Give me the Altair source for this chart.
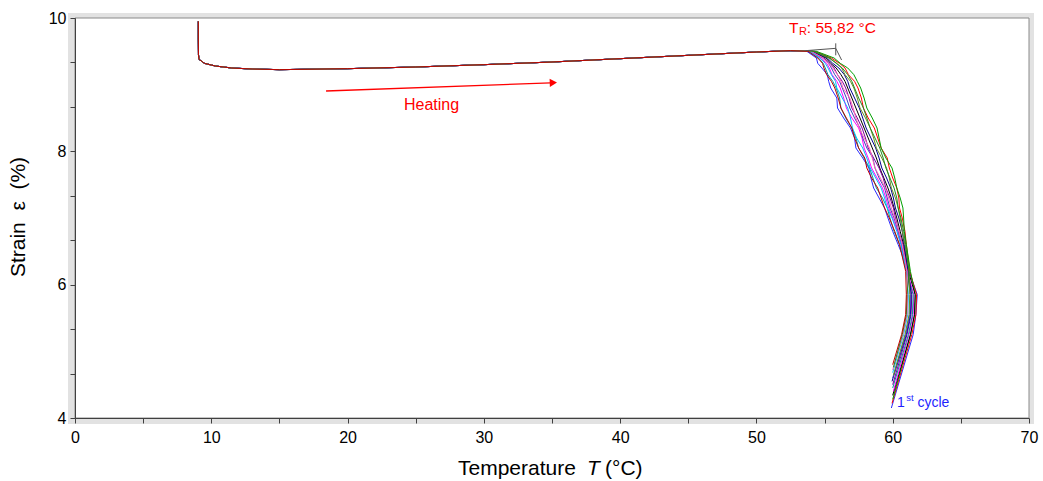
import altair as alt
import pandas as pd

FONT = "Liberation Sans"

# ---------------- data ----------------
# shared heating branch (all cycles overlap here)
heat_T = [9.05, 9.05, 9.06, 9.10, 9.50, 10.3, 11.5, 13.0, 15.0, 20.0, 25.0, 30.0, 35.0, 40.0, 45.0, 50.0, 52.5]
heat_eps = [9.95, 9.70, 9.45, 9.38, 9.32, 9.28, 9.25, 9.235, 9.225, 9.24, 9.265, 9.30, 9.34, 9.39, 9.44, 9.49, 9.51]

# strain levels of the recovery branch, temperature of each cycle at those levels
drop_eps = [9.50, 9.40, 9.32, 9.25, 9.15, 9.05, 8.95, 8.80, 8.65, 8.50, 8.35, 8.20, 8.05,
            7.90, 7.75, 7.60, 7.45, 7.30, 7.15, 7.00, 6.80, 6.60, 6.20, 5.85, 5.55, 5.25]

cycle_names = ["c01", "c02", "c03", "c04", "c05", "c06", "c07",
               "c08", "c09", "c10", "c11", "c12", "c13", "c14"]
cycle_colors = ["#2a2aff", "#ff0000", "#00a000", "#000000", "#ff00ff", "#009999", "#8000a0",
                "#000090", "#4040c0", "#6b8e23", "#00bfff", "#ff69b4", "#228b22", "#c00000"]

drop_T = [
    [53.7, 54.4, 54.5, 54.8, 55.2, 55.3, 55.45, 55.9, 55.95, 56.4, 56.9, 57.2, 57.3,
     57.8, 58.25, 58.4, 58.6, 59.0, 59.4, 59.65, 60.0, 60.4, 61.2, 61.8, 61.7, 61.5],
    [54.3, 55.5, 56.1, 56.5, 56.75, 57.2, 57.45, 57.7, 57.85, 58.2, 58.65, 58.9, 59.15,
     59.6, 59.75, 60.0, 60.3, 60.45, 60.5, 60.7, 60.9, 61.0, 61.25, 61.75, 61.7, 61.4],
    [54.4, 55.7, 56.15, 56.7, 57.15, 57.4, 57.65, 57.9, 58.1, 58.5, 58.85, 59.0, 59.15,
     59.5, 59.95, 60.15, 60.3, 60.55, 60.75, 60.8, 60.85, 61.0, 61.3, 61.65, 61.6, 61.3],
    [54.1, 55.1, 55.45, 55.85, 56.2, 56.5, 56.7, 57.0, 57.3, 57.6, 57.9, 58.2, 58.5,
     58.8, 59.05, 59.35, 59.65, 59.9, 60.1, 60.3, 60.55, 60.8, 61.15, 61.65, 61.6, 61.3],
    [53.9, 54.7, 55.15, 55.35, 55.55, 55.9, 56.15, 56.4, 56.6, 57.0, 57.5, 57.75, 57.9,
     58.2, 58.45, 58.85, 59.25, 59.5, 59.7, 60.0, 60.35, 60.6, 61.05, 61.55, 61.5, 61.2],
    [53.8, 54.55, 54.9, 55.05, 55.25, 55.6, 55.85, 56.1, 56.2, 56.55, 57.0, 57.3, 57.5,
     57.9, 58.3, 58.55, 58.8, 59.25, 59.6, 59.8, 60.1, 60.5, 61.0, 61.5, 61.45, 61.15],
    [54.05, 54.95, 55.4, 55.7, 55.95, 56.3, 56.55, 56.8, 57.0, 57.4, 57.75, 58.0, 58.2,
     58.6, 59.0, 59.3, 59.5, 59.8, 60.05, 60.2, 60.45, 60.75, 61.1, 61.4, 61.35, 61.05],
    [54.15, 55.2, 55.6, 56.05, 56.45, 56.7, 56.85, 57.2, 57.55, 57.8, 58.05, 58.4, 58.75,
     59.0, 59.2, 59.55, 59.85, 60.05, 60.2, 60.45, 60.7, 60.85, 61.15, 61.35, 61.3, 61.0],
    [53.95, 54.85, 55.3, 55.5, 55.75, 56.1, 56.3, 56.6, 56.85, 57.2, 57.6, 57.8, 58.1,
     58.55, 58.7, 59.0, 59.4, 59.6, 59.8, 60.1, 60.4, 60.65, 61.05, 61.3, 61.25, 60.95],
    [54.2, 55.3, 55.9, 56.25, 56.5, 56.9, 57.15, 57.4, 57.6, 58.0, 58.35, 58.6, 58.8,
     59.2, 59.55, 59.75, 59.9, 60.2, 60.4, 60.55, 60.7, 60.9, 61.2, 61.25, 61.2, 60.9],
    [53.9, 54.65, 55.05, 55.25, 55.5, 55.8, 55.9, 56.3, 56.7, 56.9, 57.05, 57.35, 57.8,
     58.1, 58.35, 58.75, 59.15, 59.4, 59.6, 59.95, 60.3, 60.6, 61.0, 61.15, 61.1, 60.8],
    [54.0, 54.9, 55.25, 55.6, 55.95, 56.2, 56.35, 56.85, 57.1, 57.3, 57.55, 57.9, 58.3,
     58.5, 58.7, 59.1, 59.45, 59.7, 59.9, 60.15, 60.45, 60.7, 61.05, 61.1, 61.05, 60.75],
    [54.25, 55.4, 55.85, 56.3, 56.7, 57.0, 57.2, 57.5, 57.85, 58.1, 58.35, 58.7, 59.05,
     59.3, 59.5, 59.8, 60.1, 60.3, 60.4, 60.6, 60.8, 60.95, 61.2, 61.05, 61.0, 60.7],
    [53.8, 54.5, 54.85, 54.95, 55.15, 55.5, 55.75, 56.0, 56.2, 56.6, 57.0, 57.2, 57.5,
     57.95, 58.1, 58.45, 58.9, 59.15, 59.4, 59.75, 60.15, 60.5, 60.95, 61.0, 60.95, 60.65],
]
end_T = [59.9, 59.95, 60.0, 60.0, 60.05, 60.0, 60.0, 59.95, 60.0, 60.05, 60.0, 60.0, 60.05, 60.0]
end_eps = [4.15, 4.22, 4.28, 4.34, 4.40, 4.45, 4.50, 4.55, 4.60, 4.64, 4.68, 4.72, 4.76, 4.80]

# tangent construction at T_R
tan_T = [53.6, 55.82, 55.82]
tan_eps = [9.51, 9.545, 9.44]
tan_T2 = [55.82, 56.25, 55.82]
tan_eps2 = [9.545, 9.37, 9.62]

x_ticks = [0, 2.5, 5, 7.5, 10, 12.5, 15, 17.5, 20, 22.5, 25, 27.5, 30, 32.5, 35,
           37.5, 40, 42.5, 45, 47.5, 50, 52.5, 55, 57.5, 60, 62.5, 65, 67.5, 70]
y_ticks = [4, 14 / 3, 16 / 3, 6, 20 / 3, 22 / 3, 8, 26 / 3, 28 / 3, 10]

# ---------------- build table ----------------
rows = []
for ci, name in enumerate(cycle_names):
    Ts = heat_T + drop_T[ci] + [end_T[ci]]
    Es = heat_eps + drop_eps + [end_eps[ci]]
    for k, (t, e) in enumerate(zip(Ts, Es)):
        rows.append({"cycle": name, "k": k, "T": t, "eps": e})
df = pd.DataFrame(rows)

W, H = 954, 400
xs = alt.Scale(domain=[0, 70], nice=False, zero=False)
ys = alt.Scale(domain=[4, 10], nice=False, zero=False)

one = pd.DataFrame({"a": [0]})

bg = alt.Chart(one).mark_rect(fill="#e2e2e2").encode(
    x=alt.value(-7), x2=alt.value(W + 5), y=alt.value(-5), y2=alt.value(H + 6))
plot_bg = alt.Chart(one).mark_rect(fill="white", stroke="#8a8a8a", strokeWidth=1).encode(
    x=alt.value(0), x2=alt.value(W), y=alt.value(0), y2=alt.value(H))

axis_common = dict(title=None, grid=False, tickSize=5, labelFontSize=16, labelFont=FONT,
                   labelColor="black", domainColor="#404040", tickColor="#404040",
                   zindex=1, labelFlush=False)

lines = alt.Chart(df).mark_line(strokeWidth=1, clip=True).encode(
    x=alt.X("T:Q", scale=xs, axis=alt.Axis(
        values=x_ticks, labelExpr="datum.value % 10 == 0 ? format(datum.value, 'd') : ''",
        labelPadding=6, **axis_common)),
    y=alt.Y("eps:Q", scale=ys, axis=alt.Axis(
        values=y_ticks, labelExpr="datum.value % 2 == 0 ? format(datum.value, 'd') : ''",
        labelPadding=4, **axis_common)),
    color=alt.Color("cycle:N", scale=alt.Scale(domain=cycle_names, range=cycle_colors), legend=None),
    order="k:Q",
)

tan_df = pd.DataFrame({"T": tan_T, "eps": tan_eps, "T2": tan_T2, "eps2": tan_eps2})
tangents = alt.Chart(tan_df).mark_rule(color="#555555", strokeWidth=1).encode(
    x=alt.X("T:Q", scale=xs), y=alt.Y("eps:Q", scale=ys), x2="T2:Q", y2="eps2:Q")

arrow_df = pd.DataFrame({"T": [18.42], "eps": [8.905], "T2": [34.9], "eps2": [9.027]})
arrow_line = alt.Chart(arrow_df).mark_rule(color="#ff0000", strokeWidth=1.3).encode(
    x=alt.X("T:Q", scale=xs), y=alt.Y("eps:Q", scale=ys), x2="T2:Q", y2="eps2:Q")
head_df = pd.DataFrame({"T": [35.1], "eps": [9.029]})
arrow_head = alt.Chart(head_df).mark_point(
    shape="triangle-right", filled=True, color="#ff0000", size=70, angle=358, opacity=1).encode(
    x=alt.X("T:Q", scale=xs), y=alt.Y("eps:Q", scale=ys))


def label(txt, t, e, size, color, align="left", baseline="alphabetic", style="normal"):
    d = pd.DataFrame({"T": [t], "eps": [e], "txt": [txt]})
    return alt.Chart(d).mark_text(
        align=align, baseline=baseline, fontSize=size, font=FONT, color=color,
        fontStyle=style).encode(
        x=alt.X("T:Q", scale=xs), y=alt.Y("eps:Q", scale=ys), text="txt:N")


texts = [
    label("Heating", 26.16, 8.62, 16, "#ff0000", align="center"),
    label("T", 52.39, 9.7705, 15.5, "#ff0000"),
    label("R", 53.12, 9.745, 11, "#ff0000"),
    label(": 55,82 °C", 53.70, 9.7705, 15.5, "#ff0000"),
    label("1", 60.31, 4.17, 14, "#1f1fff"),
    label("st", 61.0, 4.255, 9.5, "#1f1fff"),
    label("cycle", 61.81, 4.17, 14, "#1f1fff"),
]


def pix_text(txt, px, py, size, style="normal", angle=0, align="left", baseline="alphabetic"):
    d = pd.DataFrame({"txt": [txt]})
    return alt.Chart(d).mark_text(
        align=align, baseline=baseline, fontSize=size, font=FONT, color="black",
        fontStyle=style, angle=angle).encode(
        x=alt.value(px), y=alt.value(py), text="txt:N")


titles = [
    pix_text("Temperature", 383, 457, 21),
    pix_text("T", 512, 457, 21, style="italic"),
    pix_text("(°C)", 530, 457, 21),
    pix_text("Strain\u00a0\u00a0ε\u00a0\u00a0(%)", -56, 199, 21, angle=270, align="center", baseline="middle"),
]

chart = alt.layer(bg, plot_bg, lines, tangents, arrow_line, arrow_head, *texts, *titles).properties(
    width=W, height=H,
    autosize=alt.AutoSizeParams(type="none"),
    padding={"left": 75, "top": 18, "right": 14, "bottom": 63},
).configure_view(stroke=None).configure(background="white")

chart.save("out.html", embed_options={"renderer": "svg", "actions": False})
